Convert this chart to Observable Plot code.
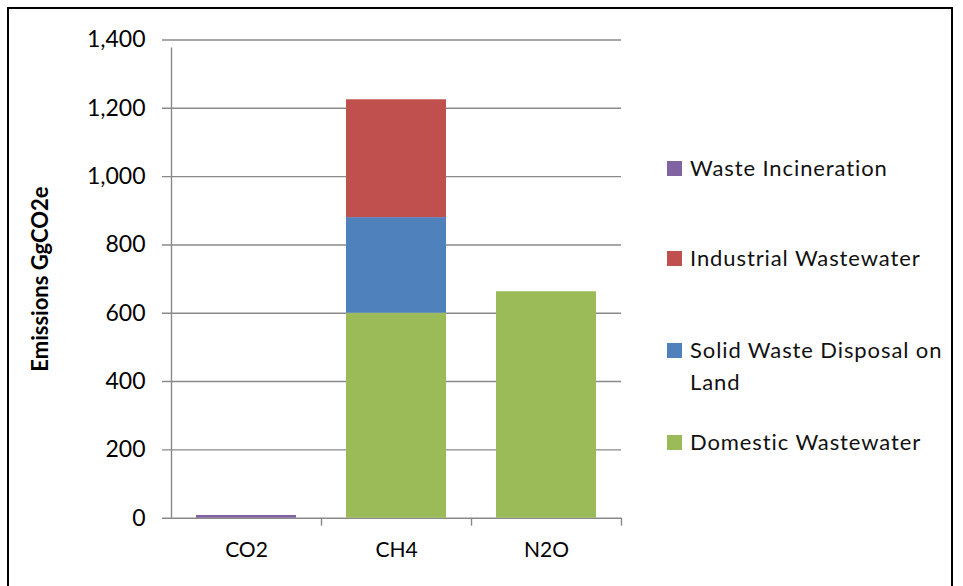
<!DOCTYPE html>
<html>
<head>
<meta charset="utf-8">
<script src="https://cdn.jsdelivr.net/npm/d3@7"></script>
<script src="https://cdn.jsdelivr.net/npm/@observablehq/plot@0.6"></script>
<style>
  html, body { margin: 0; padding: 0; background: #fff; }
  #wrap { position: relative; width: 963px; height: 586px; overflow: hidden; font-family: Lato, "Noto Sans", sans-serif; }
  #border { position: absolute; left: 7px; top: 7px; width: 946px; height: 600px; border: 2px solid #000; box-sizing: border-box; }
  .leg { position: absolute; left: 667px; font-size: 22px; color: #111; line-height: 32px; letter-spacing: 0.9px; }
  .leg .sw { position: absolute; left: 0; top: 9px; width: 15px; height: 15px; }
  .leg .tx { position: absolute; left: 23px; white-space: nowrap; }
  #chart { position: absolute; left: 0; top: 0; }
</style>
</head>
<body>
<div id="wrap">
  <div id="border"></div>
  <div id="chart"></div>
  <div id="legend"></div>
</div>
<script>
const categories = ["CO2", "CH4", "N2O"];
const series = ["Domestic Wastewater", "Solid Waste Disposal on Land", "Industrial Wastewater", "Waste Incineration"];
const colors = ["#9BBB59", "#4F81BD", "#C0504D", "#8064A2"];
const domesticWastewater = [0, 600, 663];
const solidWasteDisposal = [0, 280, 0];
const industrialWastewater = [0, 345, 0];
const wasteIncineration = [8, 0, 0];
const yTicks = [0, 200, 400, 600, 800, 1000, 1200, 1400];

const seriesValues = [domesticWastewater, solidWasteDisposal, industrialWastewater, wasteIncineration];
const rows = [];
series.forEach((s, i) => categories.forEach((c, j) => {
  rows.push({category: c, series: s, value: seriesValues[i][j]});
}));

const fmt = d3.format(",");
const chart = Plot.plot({
  width: 963,
  height: 586,
  marginLeft: 171,
  marginRight: 342,
  marginTop: 39.5,
  marginBottom: 68.3,
  style: {fontFamily: "Lato, 'Noto Sans', sans-serif", background: "transparent"},
  x: {domain: categories, paddingInner: 1/3, paddingOuter: 1/6, axis: null},
  y: {domain: [0, 1400], axis: null},
  color: {domain: series, range: colors},
  marks: [
    Plot.ruleY(yTicks, {stroke: "#8a8a8a", strokeWidth: 1.4, insetLeft: -9}),
    Plot.barY(rows, Plot.stackY({x: "category", y: "value", fill: "series", order: series})),
    Plot.ruleX(["CO2"], {x: d => d, dx: -75, y1: 0, y2: 1400, insetBottom: -8, stroke: "#8a8a8a", strokeWidth: 1.4}),
    Plot.ruleX(categories, {x: d => d, dx: 75, y1: 0, y2: 0, insetBottom: -8, stroke: "#8a8a8a", strokeWidth: 1.4}),
    Plot.text(yTicks, {y: d => d, text: d => fmt(d), frameAnchor: "left", dx: -26, textAnchor: "end", fontSize: 23, fill: "#000"}),
    Plot.text(categories, {x: d => d, text: d => d, frameAnchor: "bottom", dy: 39, fontSize: 21, fill: "#000"}),
    Plot.text(["Emissions GgCO2e"], {frameAnchor: "left", dx: -131, rotate: -90, textAnchor: "middle", fontWeight: "bold", fontSize: 22, fill: "#000"})
  ]
});
document.getElementById("chart").appendChild(chart);

const legendItems = [
  {idx: 3, top: 152, lines: ["Waste Incineration"]},
  {idx: 2, top: 242, lines: ["Industrial Wastewater"]},
  {idx: 1, top: 334, lines: ["Solid Waste Disposal on", "Land"]},
  {idx: 0, top: 426, lines: ["Domestic Wastewater"]}
];
const legend = document.getElementById("legend");
legendItems.forEach(item => {
  const div = document.createElement("div");
  div.className = "leg";
  div.style.top = item.top + "px";
  const sw = document.createElement("div");
  sw.className = "sw";
  sw.style.background = colors[item.idx];
  div.appendChild(sw);
  const tx = document.createElement("div");
  tx.className = "tx";
  tx.innerHTML = item.lines.join("<br>");
  div.appendChild(tx);
  legend.appendChild(div);
});
</script>
</body>
</html>
